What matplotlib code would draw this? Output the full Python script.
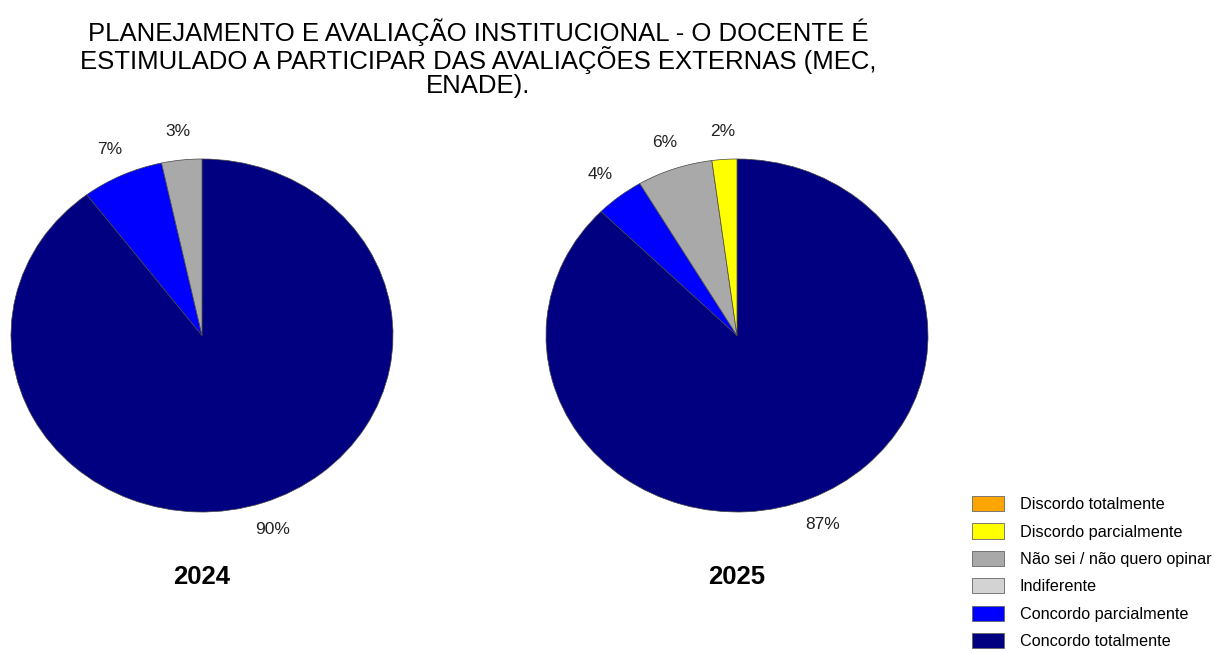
import matplotlib
matplotlib.use('Agg')
import matplotlib.pyplot as plt
from matplotlib.patches import Patch

plt.rcParams['font.family'] = ['Liberation Sans', 'DejaVu Sans']

# categorias na ordem do grafico (sentido horario a partir do topo)
categorias = ['Concordo totalmente', 'Concordo parcialmente', 'Indiferente',
              'Não sei / não quero opinar', 'Discordo parcialmente', 'Discordo totalmente']
cores = ['#000080', '#0000FF', '#D3D3D3', '#A9A9A9', '#FFFF00', '#FFA500']

anos = ['2024', '2025']
valores_2024 = [89.7, 6.9, 0, 3.4, 0, 0]
valores_2025 = [87.4, 4.1, 0, 6.4, 2.1, 0]

titulo = ('PLANEJAMENTO E AVALIAÇÃO INSTITUCIONAL - O DOCENTE É\n'
          'ESTIMULADO A PARTICIPAR DAS AVALIAÇÕES EXTERNAS (MEC,\n'
          'ENADE).')

W, H = 1215, 653
fig = plt.figure(figsize=(W / 100, H / 100), dpi=100)


def plot_pizza(valores, ano, x0):
    # eixo posicionado em pixels (pizza levemente eliptica como no original)
    ax = fig.add_axes([x0 / W, (H - 512) / H, 382 / W, 353 / H])
    vals = [v for v in valores if v > 0]
    cs = [c for v, c in zip(valores, cores) if v > 0]
    ax.pie(vals, colors=cs, startangle=90, counterclock=False,
           autopct='%.0f%%', pctdistance=1.16,
           wedgeprops=dict(edgecolor='#444444', linewidth=0.5),
           textprops=dict(fontsize=12.5, color='#222222'))
    ax.set_aspect('auto')
    ax.set_xlim(-1, 1)
    ax.set_ylim(-1, 1)
    ax.text(0, -1.37, ano, ha='center', va='center', fontsize=18.5, fontweight='bold')


plot_pizza(valores_2024, anos[0], 11)
plot_pizza(valores_2025, anos[1], 546)

fig.text(478 / W, 1 - 58 / H, titulo, ha='center', va='center', fontsize=18.5,
         linespacing=1.0)

handles = [Patch(facecolor=c, edgecolor='#666666', linewidth=0.6)
           for c in cores[::-1]]
fig.legend(handles, categorias[::-1], loc='upper left',
           bbox_to_anchor=(972 / W, 1 - 496 / H), frameon=False,
           fontsize=11.7, handlelength=1.95, handleheight=1.05,
           handletextpad=1.0, labelspacing=0.7, borderpad=0, borderaxespad=0)

plt.savefig('out.png', dpi=100)
